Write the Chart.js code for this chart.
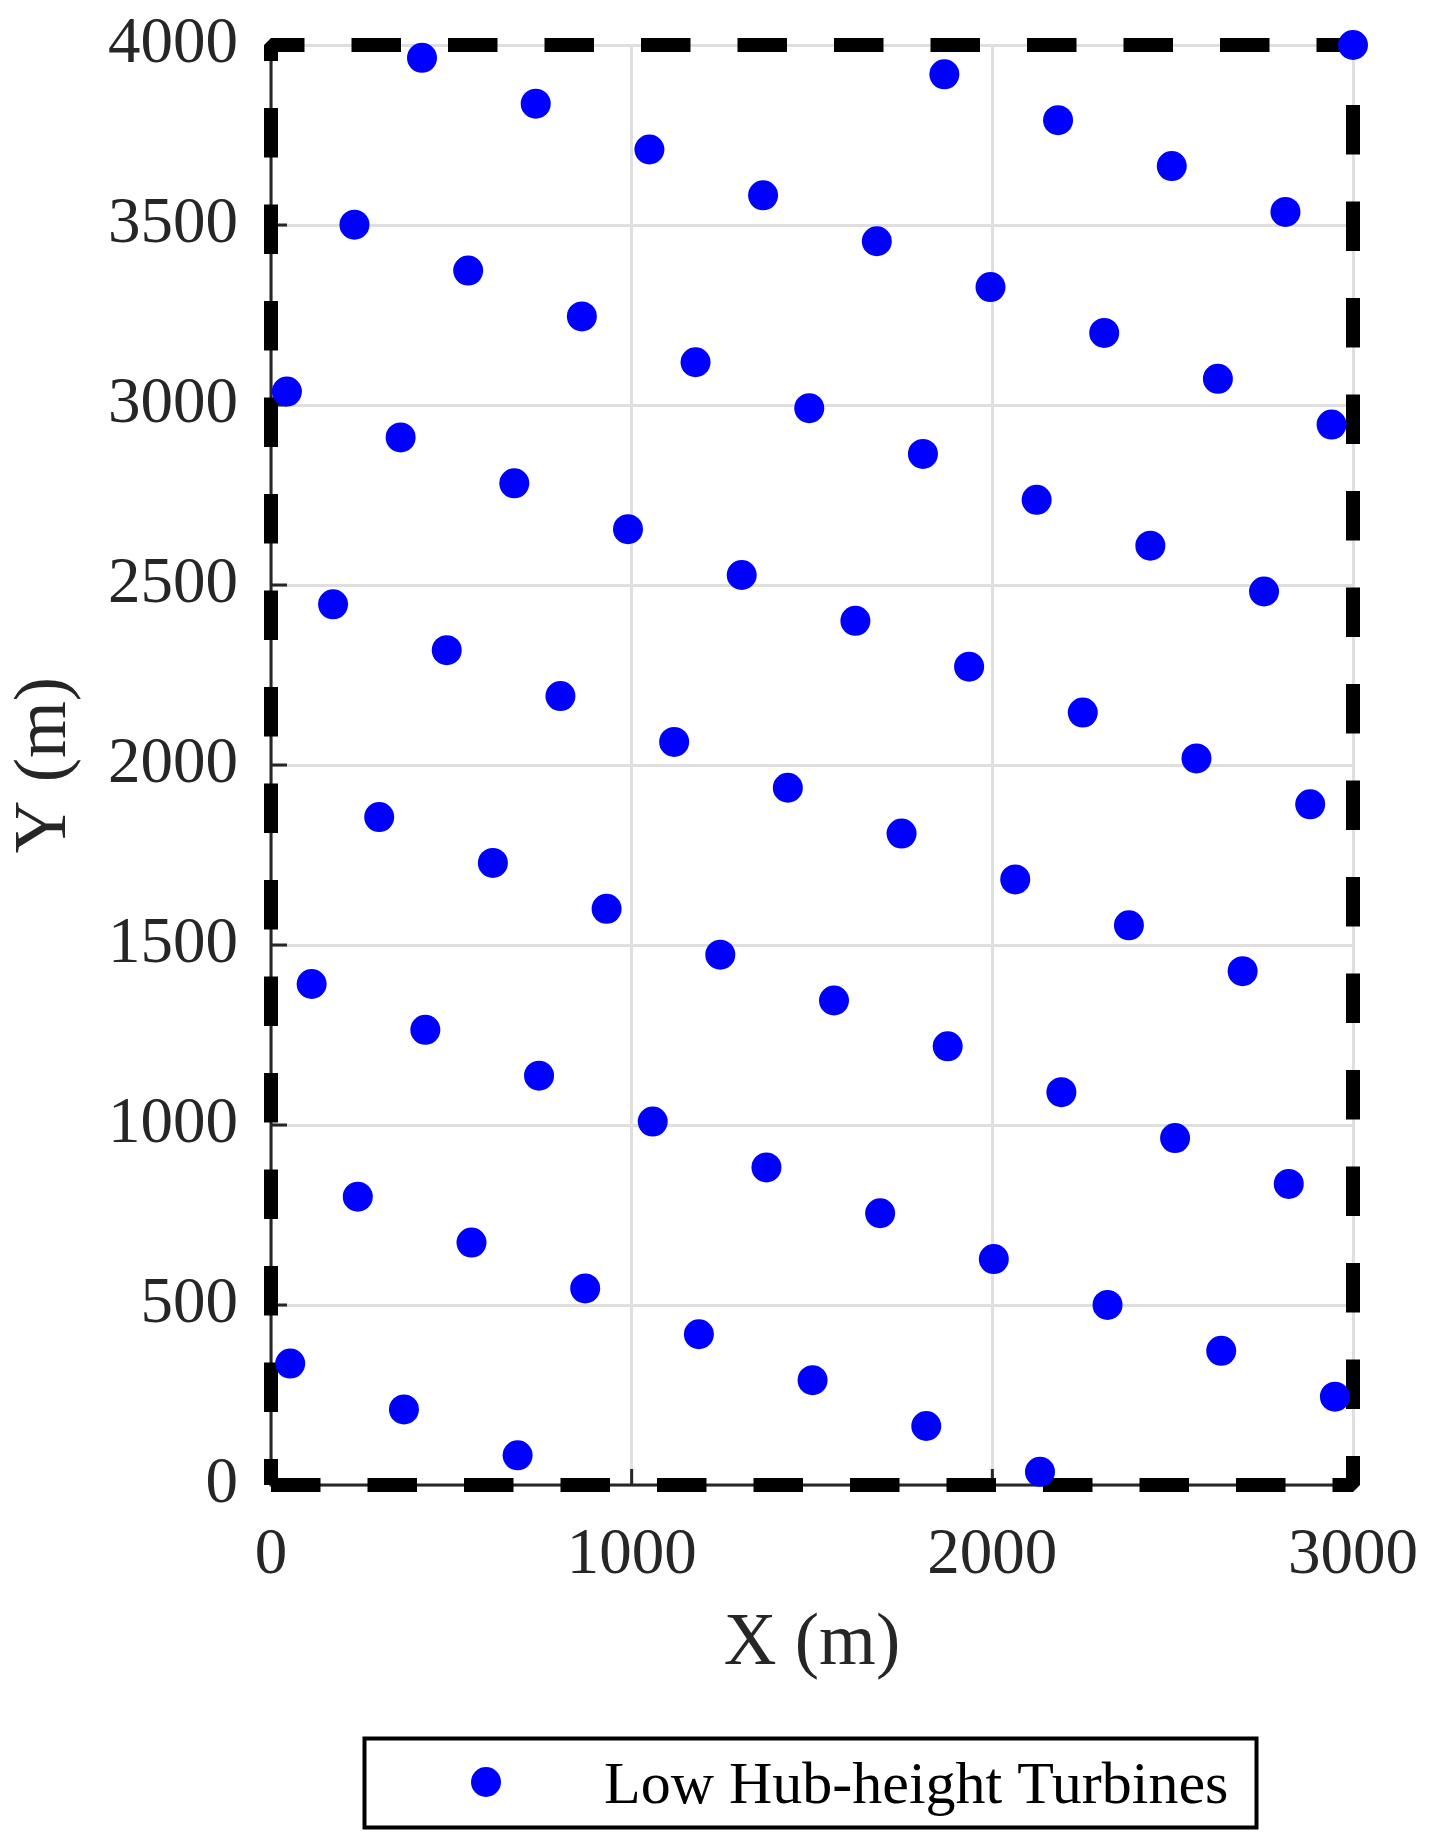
<!DOCTYPE html>
<html>
<head>
<meta charset="utf-8">
<script src="https://cdn.jsdelivr.net/npm/chart.js@4.4.1/dist/chart.umd.min.js"></script>
<style>
  html, body { margin: 0; padding: 0; background: #ffffff; }
  #wrap { width: 1433px; height: 1846px; position: relative; }
  canvas { display: block; }
</style>
</head>
<body>
<div id="wrap"><canvas id="c" width="1433" height="1846"></canvas></div>
<script>
// Turbine positions (m)
const turbineX = [
  3000.0,
  2812.7, 2497.5, 2182.2, 1867.0,
  2940.6, 2625.4, 2310.2, 1994.9, 1679.7, 1364.4, 1049.2, 734.0, 418.7,
  2753.3, 2438.1, 2122.9, 1807.6, 1492.4, 1177.1, 861.9, 546.7, 231.4,
  2881.3, 2566.0, 2250.8, 1935.6, 1620.3, 1305.1, 989.8, 674.6, 359.4, 44.1,
  2694.0, 2378.7, 2063.5, 1748.3, 1433.0, 1117.8, 802.5, 487.3, 172.1,
  2821.9, 2506.7, 2191.4, 1876.2, 1561.0, 1245.7, 930.5, 615.2, 300.0,
  2949.9, 2634.6, 2319.4, 2004.1, 1688.9, 1373.7, 1058.4, 743.2, 427.9, 112.7,
  2132.1, 1816.8, 1501.6, 1186.4, 871.1, 555.9, 240.6,
  683.8, 368.6, 53.3
];
const turbineY = [
  4000.0,
  3536.4, 3663.8, 3791.2, 3918.5,
  2945.5, 3072.8, 3200.2, 3327.6, 3454.9, 3582.3, 3709.7, 3837.0, 3964.4,
  2481.9, 2609.2, 2736.6, 2864.0, 2991.3, 3118.7, 3246.1, 3373.5, 3500.8,
  1890.9, 2018.3, 2145.6, 2273.0, 2400.4, 2527.8, 2655.1, 2782.5, 2909.9, 3037.2,
  1427.3, 1554.7, 1682.1, 1809.4, 1936.8, 2064.2, 2191.5, 2318.9, 2446.3,
  836.4, 963.7, 1091.1, 1218.5, 1345.8, 1473.2, 1600.6, 1727.9, 1855.3,
  245.4, 372.8, 500.1, 627.5, 754.9, 882.2, 1009.6, 1137.0, 1264.4, 1391.7,
  36.5, 163.9, 291.3, 418.7, 546.0, 673.4, 800.8,
  82.4, 209.8, 337.2
];
// Site boundary (m)
const boundaryX = [0, 3000, 3000, 0, 0];
const boundaryY = [0, 0, 4000, 4000, 0];
// Axis ticks
const xTickValues = [0, 1000, 2000, 3000];
const yTickValues = [0, 500, 1000, 1500, 2000, 2500, 3000, 3500, 4000];
const seriesLabel = 'Low Hub-height Turbines';
const xTitle = 'X (m)';
const yTitle = 'Y (m)';

const FONT = "'Liberation Serif', 'Times New Roman', serif";
const AXIS_COLOR = '#262626';

function zeroPad(s) {
  s.paddingTop = 0; s.paddingBottom = 0; s.paddingLeft = 0; s.paddingRight = 0;
}

const axesPlugin = {
  id: 'axesPlugin',
  beforeDatasetsDraw(chart) {
    const { ctx, chartArea: ca, scales: { x, y } } = chart;
    ctx.save();
    ctx.strokeStyle = AXIS_COLOR;
    ctx.lineWidth = 3;
    ctx.lineCap = 'butt';
    ctx.beginPath();
    ctx.moveTo(ca.left, ca.top);
    ctx.lineTo(ca.left, ca.bottom);
    ctx.lineTo(ca.right, ca.bottom);
    ctx.stroke();
    ctx.beginPath();
    x.ticks.forEach(t => {
      const px = x.getPixelForValue(t.value);
      ctx.moveTo(px, ca.bottom);
      ctx.lineTo(px, ca.bottom - 16);
    });
    y.ticks.forEach(t => {
      const py = y.getPixelForValue(t.value);
      ctx.moveTo(ca.left, py);
      ctx.lineTo(ca.left + 16, py);
    });
    ctx.stroke();
    ctx.restore();
  }
};

const legendPlugin = {
  id: 'legendBox',
  afterDraw(chart) {
    const { ctx } = chart;
    const ds = chart.data.datasets[0];
    ctx.save();
    ctx.strokeStyle = '#000000';
    ctx.lineWidth = 4;
    ctx.strokeRect(364.5, 1738.5, 892, 89);
    ctx.fillStyle = ds.pointBackgroundColor;
    ctx.beginPath();
    ctx.arc(486, 1782, 15, 0, Math.PI * 2);
    ctx.fill();
    ctx.fillStyle = '#000000';
    ctx.font = "60px " + FONT;
    ctx.textAlign = 'left';
    ctx.textBaseline = 'alphabetic';
    ctx.fillText(ds.label, 604, 1803);
    ctx.restore();
  }
};

const chart = new Chart(document.getElementById('c'), {
  type: 'scatter',
  data: {
    datasets: [
      {
        label: seriesLabel,
        data: turbineX.map((v, i) => ({ x: v, y: turbineY[i] })),
        pointRadius: 15,
        pointHoverRadius: 15,
        pointBackgroundColor: '#0000ff',
        pointBorderWidth: 0,
        borderWidth: 0,
        showLine: false,
        clip: false,
        order: 0
      },
      {
        label: 'boundary',
        data: boundaryX.map((v, i) => ({ x: v, y: boundaryY[i] })),
        showLine: true,
        borderColor: '#000000',
        borderWidth: 14,
        borderDash: [49.5, 47],
        borderJoinStyle: 'bevel',
        borderCapStyle: 'butt',
        tension: 0,
        pointRadius: 0,
        pointHoverRadius: 0,
        fill: false,
        clip: false,
        order: 1
      }
    ]
  },
  options: {
    responsive: false,
    devicePixelRatio: 1,
    animation: false,
    events: [],
    layout: { padding: { left: 0, right: 80, top: 45, bottom: 151 } },
    plugins: {
      legend: { display: false },
      tooltip: { enabled: false }
    },
    scales: {
      x: {
        type: 'linear',
        min: 0,
        max: 3000,
        afterBuildTicks: s => { s.ticks = xTickValues.map(v => ({ value: v })); },
        afterFit: s => { s.height = 210; zeroPad(s); },
        grid: { color: '#dfdfdf', lineWidth: 3, drawTicks: false },
        border: { display: false },
        ticks: {
          padding: 32,
          color: AXIS_COLOR,
          font: { family: FONT, size: 65 },
          maxRotation: 0,
          autoSkip: false,
          callback: v => String(v)
        },
        title: {
          display: true,
          text: xTitle,
          color: AXIS_COLOR,
          font: { family: FONT, size: 73 },
          padding: { top: 0, bottom: 6 }
        }
      },
      y: {
        type: 'linear',
        min: 0,
        max: 4000,
        afterBuildTicks: s => { s.ticks = yTickValues.map(v => ({ value: v })); },
        afterFit: s => { s.width = 271; zeroPad(s); },
        grid: { color: '#dfdfdf', lineWidth: 3, drawTicks: false },
        border: { display: false },
        ticks: {
          padding: 33,
          color: AXIS_COLOR,
          font: { family: FONT, size: 65 },
          autoSkip: false,
          callback: v => String(v)
        },
        title: {
          display: true,
          text: yTitle,
          color: AXIS_COLOR,
          font: { family: FONT, size: 73 },
          padding: { top: 2, bottom: 0 }
        }
      }
    }
  },
  plugins: [axesPlugin, legendPlugin]
});
</script>
</body>
</html>
